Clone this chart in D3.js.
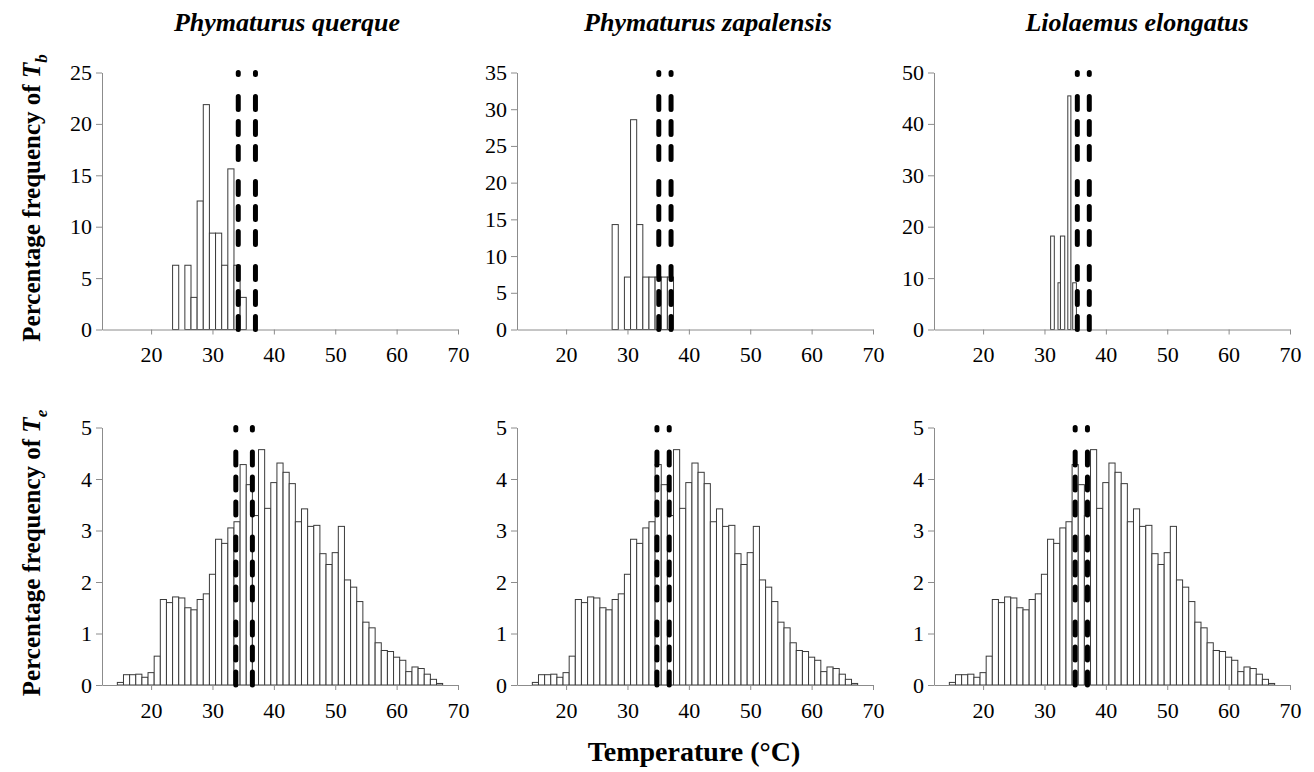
<!DOCTYPE html>
<html>
<head>
<meta charset="utf-8">
<script src="https://cdn.jsdelivr.net/npm/d3@7"></script>
<style>
  body { margin: 0; background: #fff; }
  text { font-family: "Liberation Serif", "Times New Roman", Times, "DejaVu Serif", "Noto Serif", serif; }
</style>
</head>
<body>
<script>
// species in panel order
const species = ["Phymaturus querque", "Phymaturus zapalensis", "Liolaemus elongatus"];

// Tb histograms (percent), 1 degree bins centred on the integer
const tbQuerqueBins = [24, 25, 26, 27, 28, 29, 30, 31, 32, 33, 34, 35];
const tbQuerqueVals = [6.25, 0, 6.25, 3.125, 12.5, 21.875, 9.375, 9.375, 6.25, 15.625, 6.25, 3.125];
const tbZapalensisBins = [28, 29, 30, 31, 32, 33, 34, 35, 36, 37];
const tbZapalensisVals = [14.29, 0, 7.14, 28.57, 14.29, 7.14, 7.14, 7.14, 7.14, 7.14];
// L. elongatus bars are narrower, given by their edges
const tbElongatusLo = [31.0, 32.2, 32.6, 33.8, 34.6];
const tbElongatusHi = [31.6, 32.6, 33.3, 34.3, 35.2];
const tbElongatusVals = [18.18, 9.09, 18.18, 45.45, 9.09];

// Te histogram (same for the three species), bins 15..67
const teBins = d3.range(15, 68);
const teVals = [0.05, 0.2, 0.2, 0.21, 0.15, 0.24, 0.56, 1.66, 1.60, 1.71,
  1.69, 1.50, 1.46, 1.66, 1.77, 2.15, 2.83, 2.75, 3.05, 3.17,
  4.28, 3.89, 3.29, 4.57, 3.43, 3.93, 4.31, 4.13, 3.91, 3.17,
  3.42, 3.08, 3.10, 2.55, 2.34, 2.57, 3.08, 2.04, 1.90, 1.62,
  1.22, 1.11, 0.82, 0.67, 0.65, 0.54, 0.48, 0.26, 0.35, 0.32,
  0.21, 0.11, 0.03];

// dashed reference lines (Tset range) per panel
const tbLines = [[34.2, 37.0], [35.1, 37.1], [35.35, 37.3]];
const teLines = [[33.8, 36.5], [34.8, 36.8], [35.0, 37.0]];

// axis ticks
const xTicks = [20, 30, 40, 50, 60, 70];
const tbYMax = [25, 35, 50];
const tbYStep = [5, 5, 10];
const teYMax = 5;

const serif = '"Liberation Serif", "Times New Roman", Times, "DejaVu Serif", "Noto Serif", serif';
const W = 1314, H = 772;
const panelLeft = [102, 517, 934];
const panelW = 356;
const rowTop = [72.5, 427.5];
const rowBottom = [329.5, 685];

const svg = d3.select("body").append("svg")
  .attr("width", W).attr("height", H);

function tbBars(i) {
  if (i === 0) return tbQuerqueBins.map((b, j) => ({lo: b - 0.5, hi: b + 0.5, v: tbQuerqueVals[j]}));
  if (i === 1) return tbZapalensisBins.map((b, j) => ({lo: b - 0.5, hi: b + 0.5, v: tbZapalensisVals[j]}));
  return tbElongatusLo.map((lo, j) => ({lo: lo, hi: tbElongatusHi[j], v: tbElongatusVals[j]}));
}
const teData = teBins.map((b, j) => ({lo: b - 0.5, hi: b + 0.5, v: teVals[j]}));

const dashPattern = "13,12,13,12,13,22";

function drawPanel(i, row, bars, ymax, ystep, lines) {
  const x = d3.scaleLinear().domain([12, 70]).range([panelLeft[i], panelLeft[i] + panelW]);
  const y = d3.scaleLinear().domain([0, ymax]).range([rowBottom[row], rowTop[row]]);
  const g = svg.append("g");

  g.selectAll("rect.bar")
    .data(bars.filter(d => d.v > 0))
    .enter().append("rect")
      .attr("class", "bar")
      .attr("x", d => x(d.lo))
      .attr("width", d => x(d.hi) - x(d.lo))
      .attr("y", d => y(d.v))
      .attr("height", d => y(0) - y(d.v))
      .style("fill", "#fff")
      .style("stroke", "#3a3a3a")
      .style("stroke-width", 1);

  const yAxis = g.append("g")
    .attr("transform", `translate(${panelLeft[i]},0)`)
    .call(d3.axisLeft(y).tickValues(d3.range(0, ymax + 0.001, ystep))
      .tickFormat(d3.format("d"))
      .tickSize(6).tickSizeOuter(0).tickPadding(4));
  const xAxis = g.append("g")
    .attr("transform", `translate(0,${rowBottom[row]})`)
    .call(d3.axisBottom(x).tickValues(xTicks).tickSize(5).tickSizeOuter(0).tickPadding(12));

  [yAxis, xAxis].forEach(a => {
    a.attr("font-family", null);
    a.select(".domain").style("stroke", "#8c8c8c");
    a.selectAll(".tick line").style("stroke", "#8c8c8c");
    a.selectAll("text")
      .style("font-family", serif)
      .style("font-size", "22px")
      .style("fill", "#000");
  });

  g.selectAll("line.ref")
    .data(lines)
    .enter().append("line")
      .attr("class", "ref")
      .attr("x1", d => x(d)).attr("x2", d => x(d))
      .attr("y1", y(0)).attr("y2", y(ymax))
      .style("stroke", "#000")
      .style("stroke-width", 5)
      .style("stroke-linecap", "round")
      .style("stroke-dasharray", dashPattern);
}

for (let i = 0; i < 3; i++) {
  drawPanel(i, 0, tbBars(i), tbYMax[i], tbYStep[i], tbLines[i]);
  drawPanel(i, 1, teData, teYMax, 1, teLines[i]);
}

// species titles
const titleX = [287, 708, 1137];
svg.selectAll("text.title")
  .data(species)
  .enter().append("text")
    .attr("class", "title")
    .attr("x", (d, i) => titleX[i])
    .attr("y", 31)
    .attr("text-anchor", "middle")
    .style("font-family", serif)
    .style("font-size", "26px")
    .style("font-weight", "bold")
    .style("font-style", "italic")
    .text(d => d);

// y axis titles
const yLabels = [{sub: "b", cy: 198}, {sub: "e", cy: 553}];
yLabels.forEach(l => {
  const t = svg.append("text")
    .attr("transform", `translate(40,${l.cy}) rotate(-90)`)
    .attr("text-anchor", "middle")
    .style("font-family", serif)
    .style("font-size", "25px")
    .style("font-weight", "bold");
  t.append("tspan").text("Percentage frequency of ");
  t.append("tspan").style("font-style", "italic").text("T");
  t.append("tspan").style("font-style", "italic").style("font-size", "17px")
    .attr("dy", 7).text(l.sub);
});

// x axis title
svg.append("text")
  .attr("x", 694)
  .attr("y", 761)
  .attr("text-anchor", "middle")
  .style("font-family", serif)
  .style("font-size", "28px")
  .style("font-weight", "bold")
  .text("Temperature (°C)");
</script>
</body>
</html>
